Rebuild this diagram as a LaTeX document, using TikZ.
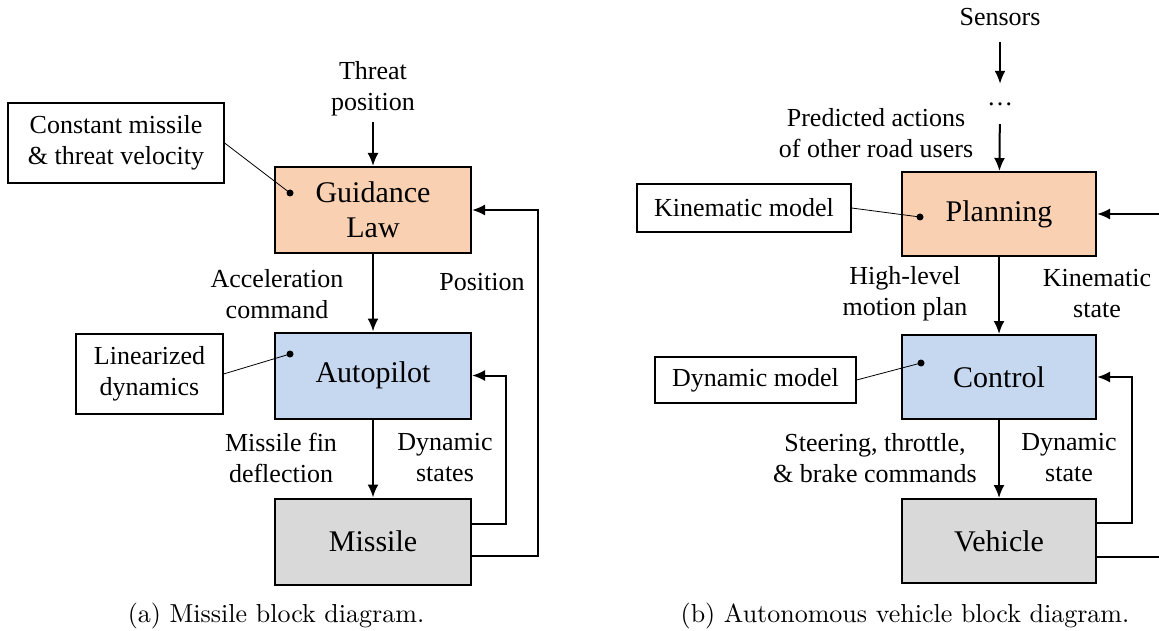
\documentclass[tikz,border=0pt]{standalone}
\usepackage{fontspec}
\usetikzlibrary{arrows.meta,calc}
\newfontfamily\timesfont{Liberation Serif}
\newfontfamily\capfont{lmroman10-regular}[Extension=.otf]

\newlength{\du}
\setlength{\du}{1pt}

\definecolor{guidecolor}{RGB}{249,209,178}
\definecolor{ctrlcolor}{RGB}{198,216,240}
\definecolor{plantcolor}{RGB}{217,217,217}

\tikzset{
  block/.style={draw, line width=2\du, minimum width=196\du, minimum height=86\du,
    inner sep=0pt, align=center, font=\timesfont\fontsize{30}{35}\selectfont},
  note/.style={draw, line width=1.2\du, inner sep=0pt, align=center,
    font=\timesfont\fontsize{26}{31}\selectfont},
  lbl/.style={inner sep=0pt, align=center, font=\timesfont\fontsize{26}{31}\selectfont},
  flow/.style={line width=2\du, -{Latex[length=13pt,width=11pt]}},
  pin/.style={line width=0.8\du},
  dot/.style={circle, fill, inner sep=0pt, minimum size=7\du},
  caption/.style={anchor=base, font=\capfont\fontsize{26}{30}\selectfont}
}

\begin{document}
\begin{tikzpicture}[x=1\du,y=-1\du]
\useasboundingbox (0,0) rectangle (1159,631);
% (a) missile
\node[block, fill=guidecolor] (guid) at (373,210) {Guidance\\Law};
\node[block, fill=ctrlcolor] (auto) at (373,375.5) {Autopilot};
\node[block, fill=plantcolor] (miss) at (373,541.5) {Missile};
\node[lbl] (threat) at (373,89) {Threat\\position};
\node[note, minimum width=216\du, minimum height=80\du] (const) at (116,143) {Constant missile\\\& threat velocity};
\node[note, minimum width=147\du, minimum height=80\du] (lin) at (149.5,374) {Linearized\\dynamics};
\node[dot] (gdot) at (290,193) {};
\node[dot] (adot) at (290,354) {};
\node[lbl] (acc) at (277,294) {Acceleration\\command};
\node[lbl] (pos) at (482,282) {Position};
\node[lbl] (fin) at (281,458) {Missile fin\\deflection};
\node[lbl] (dyn) at (445,458) {Dynamic\\states};
\draw[flow, shorten <=6pt] (threat) -- (guid);
\draw[flow] (guid) -- (auto);
\draw[flow] (auto) -- (miss);
\draw[flow] ($(miss.east)+(0,-18)$) -- ++(34,0) |- (auto.east);
\draw[flow] ($(miss.east)+(0,14)$) -- ++(66,0) |- (guid.east);
\draw[pin] (const.east) -- (gdot.center);
\draw[pin] (lin.east) -- (adot.center);
\node[caption] (capa) at (276,622) {(a) Missile block diagram.};

% (b) autonomous vehicle
\node[block, fill=guidecolor, minimum width=194\du, minimum height=84\du] (plan) at (999,214) {Planning};
\node[block, fill=ctrlcolor, minimum width=194\du, minimum height=84\du] (ctrl) at (999,377) {Control};
\node[block, fill=plantcolor, minimum width=194\du, minimum height=84\du] (veh) at (999,541) {Vehicle};
\node[lbl] (sens) at (1000,17) {Sensors};
\node[lbl, minimum height=40\du] (more) at (1000,104) {\dots};
\node[lbl] (pred) at (876,133) {Predicted actions\\of other road users};
\node[note, minimum width=214\du, minimum height=48\du] (kin) at (744,208) {Kinematic model};
\node[note, minimum width=201\du, minimum height=46\du] (dynm) at (755.5,380) {Dynamic model};
\node[dot] (pdot) at (920,217) {};
\node[dot] (cdot) at (921,363) {};
\node[lbl] (hlm) at (905,294) {High-level\\motion plan};
\node[lbl] (kst) at (1097,294) {Kinematic\\state};
\node[lbl] (steer) at (875,458) {Steering, throttle,\\\& brake commands};
\node[lbl] (dst) at (1069,458) {Dynamic\\state};
\draw[flow, shorten <=16pt] (sens) -- (more);
\draw[flow] (more) -- (plan);
\draw[flow] (plan) -- (ctrl);
\draw[flow] (ctrl) -- (veh);
\draw[flow] ($(veh.east)+(0,-18)$) -- ++(35,0) |- (ctrl.east);
\draw[flow] ($(veh.east)+(0,16)$) -- ++(70,0) |- (plan.east);
\draw[pin] (kin.east) -- (pdot.center);
\draw[pin] (dynm.east) -- (cdot.center);
\node[caption] (capb) at (905,622) {(b) Autonomous vehicle block diagram.};
\end{tikzpicture}
\end{document}
